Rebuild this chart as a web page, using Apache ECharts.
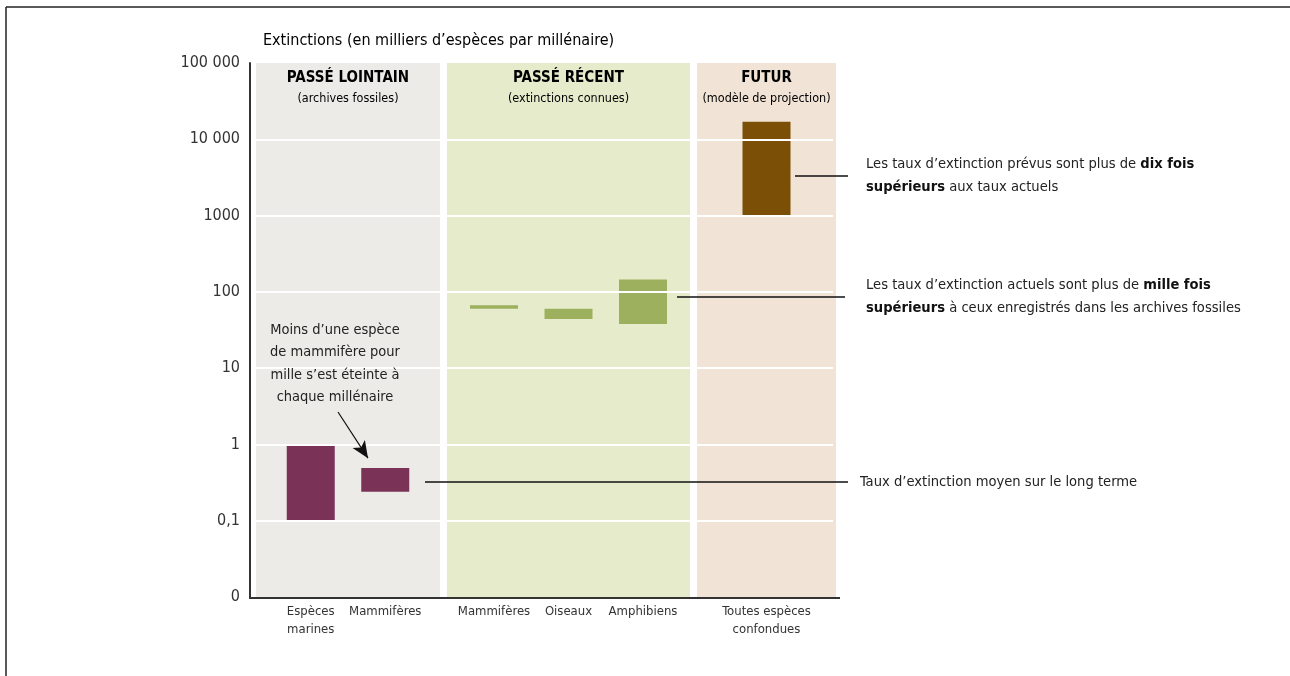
<!DOCTYPE html>
<html><head><meta charset="utf-8">
<script src="https://cdn.jsdelivr.net/npm/echarts@6/dist/echarts.min.js"></script>
<style>html,body{margin:0;padding:0;background:#fff}#c{width:1290px;height:676px}</style>
</head><body><div id="c"></div>
<script>
// ---- data ----
const categories = ['Espèces\nmarines', 'Mammifères', 'Mammifères', 'Oiseaux', 'Amphibiens', 'Toutes espèces\nconfondues'];
const categoryPeriod = [0, 0, 1, 1, 1, 2];
const lowValues  = [0.1, 0.24, 60, 44, 38, 1000];
const highValues = [1, 0.49, 67, 60, 145, 17000];
const periods = ['PASSÉ LOINTAIN', 'PASSÉ RÉCENT', 'FUTUR'];
const periodSubtitles = ['(archives fossiles)', '(extinctions connues)', '(modèle de projection)'];
const yTickValues = [0.01, 0.1, 1, 10, 100, 1000, 10000, 100000];
const yTickLabels = ['0', '0,1', '1', '10', '100', '1000', '10 000', '100 000'];
const gridValues = [0.1, 1, 10, 100, 1000, 10000];
const axisTitle = 'Extinctions (en milliers d’espèces par millénaire)';
const noteMammals = 'Moins d’une espèce\nde mammifère pour\nmille s’est éteinte à\nchaque millénaire';

// ---- layout / style ----
const FONT = "'Liberation Sans Narrow', 'DejaVu Sans Condensed', 'Roboto', sans-serif";
const bandExtents = [[6, 190], [197, 440], [447, 586]];   // x-axis units
const catStep = 74.5;
const bandColors = ['#ECEBE7', '#E6ECCB', '#F1E3D5'];
const barColors = ['#7A3357', '#9CB05E', '#7B5006'];
const Y_MIN = 0.01, Y_MAX = 100000;

// category x positions: centred inside their period band
const catX = categories.map((c, i) => {
  const p = categoryPeriod[i];
  const members = categoryPeriod.map((q, j) => q === p ? j : -1).filter(j => j >= 0);
  const k = members.indexOf(i);
  const center = (bandExtents[p][0] + bandExtents[p][1]) / 2;
  return center + (k - (members.length - 1) / 2) * catStep;
});

const barData = categories.map((c, i) => [catX[i], lowValues[i], highValues[i], i]);
const bandData = periods.map((p, i) => [bandExtents[i][0], bandExtents[i][1], i]);

const richNote = {
  n: {fontFamily: FONT, fontSize: 14.6, color: '#222', lineHeight: 23},
  b: {fontFamily: FONT, fontSize: 14.6, fontWeight: 'bold', color: '#111', lineHeight: 23}
};

const chart = echarts.init(document.getElementById('c'), null, {renderer: 'canvas'});
chart.setOption({
  animation: false,
  backgroundColor: '#fff',
  textStyle: {fontFamily: FONT},
  title: {
    text: axisTitle, left: 258, top: 28,
    textStyle: {fontFamily: FONT, fontSize: 16, fontWeight: 500, color: '#000'}
  },
  graphic: [
    {type: 'line', shape: {x1: 6, y1: 7, x2: 1290, y2: 7}, style: {stroke: '#222', lineWidth: 1.5}},
    {type: 'line', shape: {x1: 6, y1: 7, x2: 6, y2: 676}, style: {stroke: '#222', lineWidth: 1.5}}
  ],
  grid: {left: 250, top: 63, width: 600, height: 534, containLabel: false},
  xAxis: {
    type: 'value', min: 0, max: 600,
    axisLine: {show: false}, axisTick: {show: false}, axisLabel: {show: false}, splitLine: {show: false}
  },
  yAxis: {
    type: 'log', logBase: 10, min: Y_MIN, max: Y_MAX, interval: 1, splitNumber: 7,
    axisLine: {show: true, lineStyle: {color: '#333', width: 2}},
    axisTick: {show: false},
    splitLine: {show: false},
    axisLabel: {
      margin: 10, fontSize: 16, color: '#333', fontFamily: FONT,
      formatter: v => {
        const e = Math.round(Math.log10(v));
        const idx = yTickValues.findIndex(t => Math.round(Math.log10(t)) === e);
        return idx >= 0 ? yTickLabels[idx] : '';
      }
    }
  },
  series: [
    { // period bands with headings
      type: 'custom', z: 1, silent: true,
      data: bandData,
      encode: {x: [0, 1]},
      renderItem: (params, api) => {
        const i = api.value(2);
        const p0 = api.coord([api.value(0), Y_MAX]);
        const p1 = api.coord([api.value(1), Y_MIN]);
        return {
          type: 'group',
          children: [
            {type: 'rect', shape: {x: p0[0], y: p0[1], width: p1[0] - p0[0], height: p1[1] - p0[1]},
             style: {fill: bandColors[i]}},
            {type: 'text', x: (p0[0] + p1[0]) / 2, y: p0[1] + 5,
             style: {
               text: '{t|' + periods[i] + '}\n{s|' + periodSubtitles[i] + '}',
               align: 'center', verticalAlign: 'top',
               rich: {
                 t: {fontFamily: FONT, fontSize: 15, fontWeight: 'bold', color: '#111', lineHeight: 20, align: 'center'},
                 s: {fontFamily: FONT, fontSize: 12.5, color: '#333', lineHeight: 22, align: 'center'}
               }
             }}
          ]
        };
      }
    },
    { // white grid lines on the bands
      type: 'line', z: 2, data: [], silent: true,
      markLine: {
        silent: true, symbol: 'none', label: {show: false},
        lineStyle: {color: '#fff', width: 2, type: 'solid'},
        data: gridValues.map(v => [{coord: [bandExtents[0][0], v]}, {coord: [bandExtents[2][1] - 3, v]}])
      }
    },
    { // floating bars + category labels
      type: 'custom', z: 3,
      data: barData,
      encode: {x: 0, y: [1, 2]},
      renderItem: (params, api) => {
        const i = api.value(3);
        const x = api.value(0);
        const top = api.coord([x, api.value(2)]);
        const bot = api.coord([x, api.value(1)]);
        const base = api.coord([x, Y_MIN]);
        const w = 48;
        return {
          type: 'group',
          children: [
            {type: 'rect', shape: {x: top[0] - w / 2, y: top[1], width: w, height: bot[1] - top[1]},
             style: {fill: barColors[categoryPeriod[i]]}},
            {type: 'text', x: base[0], y: base[1] + 6,
             style: {text: categories[i], align: 'center', verticalAlign: 'top',
                     fontFamily: FONT, fontSize: 13, lineHeight: 18, fill: '#333'}}
          ]
        };
      }
    },
    { // baseline of the chart
      type: 'custom', z: 4, silent: true,
      data: [[0, bandExtents[2][1] + 4]],
      encode: {x: [0, 1]},
      renderItem: (params, api) => {
        const a = api.coord([api.value(0), Y_MIN]);
        const b = api.coord([api.value(1), Y_MIN]);
        return {type: 'line', shape: {x1: a[0] - 1, y1: a[1] + 1, x2: b[0], y2: b[1] + 1},
                style: {stroke: '#333', lineWidth: 2}};
      }
    },
    { // mammal note text
      type: 'custom', z: 5, silent: true,
      data: [[85, 11.5]],
      encode: {x: 0, y: 1},
      renderItem: (params, api) => {
        const p = api.coord([api.value(0), api.value(1)]);
        return {type: 'text', x: p[0], y: p[1],
                style: {text: noteMammals, align: 'center', verticalAlign: 'middle',
                        fontFamily: FONT, fontSize: 14.5, lineHeight: 22.5, fill: '#222'}};
      }
    },
    { // annotation lines + texts
      type: 'line', z: 6, data: [], silent: true,
      markLine: {
        silent: true, symbol: 'none',
        lineStyle: {color: '#111', width: 1.5, type: 'solid'},
        label: {show: true, position: 'end', distance: 16, color: '#222', fontFamily: FONT, fontSize: 14.6, lineHeight: 23},
        data: [
          [{coord: [545, 3300],
            label: {distance: 18, formatter: '{n|Les taux d’extinction prévus sont plus de }{b|dix fois}\n{b|supérieurs}{n| aux taux actuels}',
                    rich: richNote}},
           {coord: [598, 3300]}],
          [{coord: [427, 85.5],
            label: {distance: 21, formatter: '{n|Les taux d’extinction actuels sont plus de }{b|mille fois}\n{b|supérieurs}{n| à ceux enregistrés dans les archives fossiles}',
                    rich: richNote}},
           {coord: [595, 85.5]}],
          [{coord: [175, 0.32], label: {distance: 12, formatter: 'Taux d’extinction moyen sur le long terme'}},
           {coord: [598, 0.32]}]
        ]
      }
    },
    { // arrow
      type: 'line', z: 6, data: [], silent: true,
      markLine: {
        silent: true, symbol: ['none', 'arrow'], symbolSize: [11, 17],
        label: {show: false},
        lineStyle: {color: '#111', width: 1.2, type: 'solid'},
        data: [[{coord: [88, 2.66]}, {coord: [118, 0.66]}]]
      }
    }
  ]
});
</script>
</body></html>
